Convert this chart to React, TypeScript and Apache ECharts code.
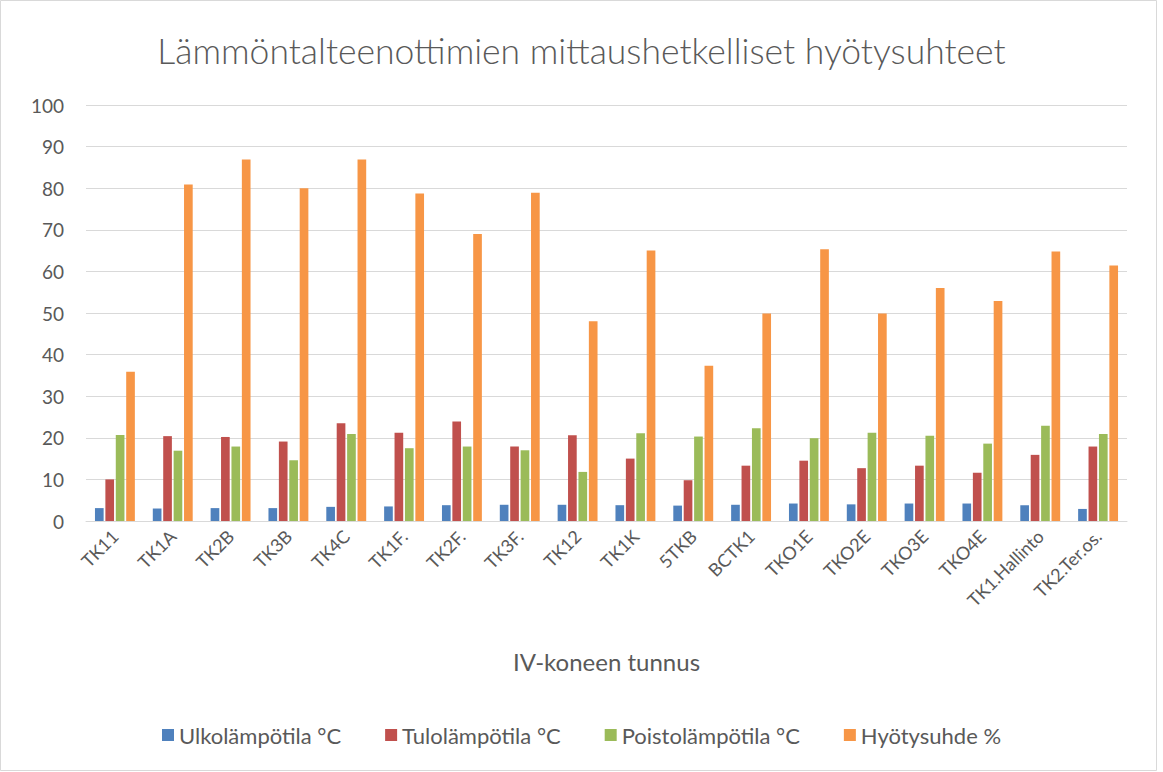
import React, { useEffect, useRef } from "react";
import * as echarts from "echarts";

const categories = ["TK11", "TK1A", "TK2B", "TK3B", "TK4C", "TK1F.", "TK2F.", "TK3F.", "TK12", "TK1K", "5TKB", "BCTK1", "TKO1E", "TKO2E", "TKO3E", "TKO4E", "TK1.Hallinto", "TK2.Ter.os."];
const ulko = [3.1, 3.0, 3.1, 3.1, 3.4, 3.5, 3.8, 3.9, 3.9, 3.8, 3.7, 3.9, 4.2, 4.0, 4.2, 4.2, 3.8, 2.9];
const tulo = [10.0, 20.4, 20.2, 19.1, 23.5, 21.2, 23.9, 17.9, 20.6, 15.0, 9.8, 13.3, 14.5, 12.7, 13.3, 11.6, 15.9, 17.9];
const poisto = [20.7, 16.9, 17.9, 14.6, 20.9, 17.5, 17.9, 17.0, 11.8, 21.1, 20.3, 22.3, 19.9, 21.2, 20.5, 18.6, 22.9, 20.9];
const hyoty = [35.9, 80.9, 86.9, 80.0, 86.9, 78.7, 69.0, 78.9, 48.0, 65.0, 37.3, 49.9, 65.3, 49.9, 56.0, 52.9, 64.8, 61.4];
const seriesNames = ["Ulkolämpötila °C", "Tulolämpötila °C", "Poistolämpötila °C", "Hyötysuhde %"];
const colors = ["#4F81BD", "#C0504D", "#9BBB59", "#F79646"];

const FONT = "Lato, 'Open Sans', sans-serif";
const TXT = "#595959";

export default function App() {
  const ref = useRef<HTMLDivElement>(null);
  useEffect(() => {
    document.body.style.margin = "0";
    const chart = echarts.init(ref.current!, null, { renderer: "svg" });
    const data = [ulko, tulo, poisto, hyoty];
    chart.setOption({
      animation: false,
      backgroundColor: "#ffffff",
      color: colors,
      textStyle: { fontFamily: FONT },
      title: {
        text: "Lämmöntalteenottimien mittaushetkelliset hyötysuhteet",
        left: "center",
        top: 27,
        textStyle: { fontFamily: FONT, fontSize: 35.5, fontWeight: 300, color: TXT },
      },
      legend: {
        bottom: 21,
        left: "center",
        itemWidth: 12,
        itemHeight: 12,
        itemGap: 44,
        icon: "rect",
        textStyle: { fontFamily: FONT, fontSize: 22, color: TXT },
        data: seriesNames,
      },
      grid: { left: 86, right: 36, top: 105, bottom: 251, containLabel: false },
      xAxis: {
        type: "category",
        data: categories,
        name: "IV-koneen tunnus",
        nameLocation: "middle",
        nameGap: 128,
        nameTextStyle: { fontFamily: FONT, fontSize: 24, color: TXT },
        axisTick: { show: false },
        axisLine: { lineStyle: { color: "#d9d9d9", width: 1 } },
        axisLabel: { rotate: 45, fontSize: 18, color: TXT, fontFamily: FONT, margin: 12, interval: 0 },
      },
      yAxis: {
        type: "value",
        min: 0,
        max: 100,
        interval: 10,
        axisLine: { show: false },
        axisTick: { show: false },
        splitLine: { lineStyle: { color: "#d9d9d9", width: 1 } },
        axisLabel: { fontSize: 19, color: TXT, fontFamily: FONT, margin: 22 },
      },
      series: seriesNames.map((name, i) => ({
        name,
        type: "bar",
        data: data[i],
        barGap: "20%",
        barCategoryGap: "31%",
        itemStyle: { color: colors[i] },
      })),
      graphic: [
        {
          type: "rect",
          shape: { x: 0.5, y: 0.5, width: 1156, height: 770 },
          style: { fill: "none", stroke: "#d9d9d9", lineWidth: 1 },
          silent: true,
        },
      ],
    });
    return () => chart.dispose();
  }, []);
  return <div ref={ref} style={{ width: 1163, height: 772 }} />;
}
